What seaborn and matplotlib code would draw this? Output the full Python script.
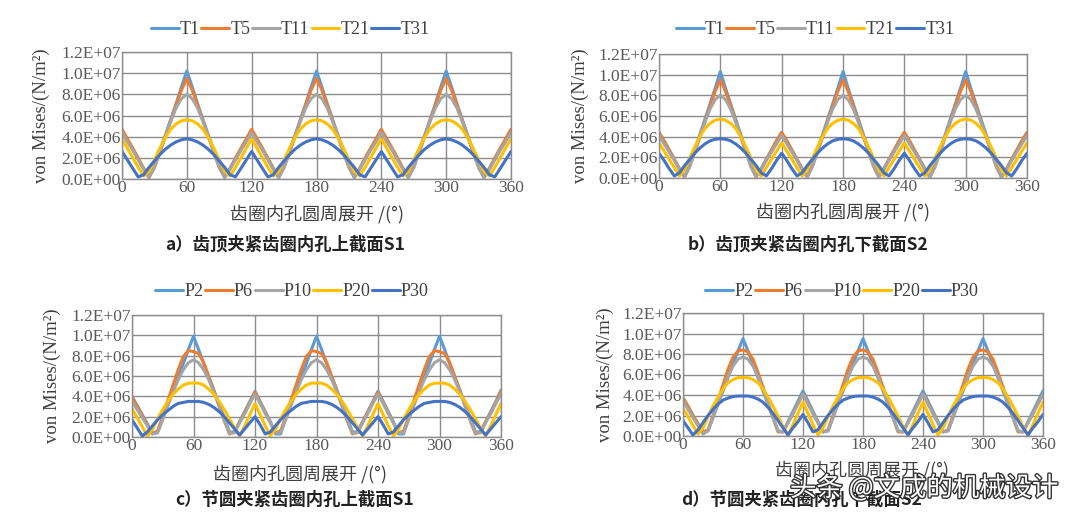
import pandas as pd
import matplotlib
matplotlib.use("Agg")
import matplotlib.pyplot as plt
import matplotlib.patheffects as pe
import seaborn as sns

# angle along the unrolled inner hole (deg), values in 1E+06 N/m^2
angle = list(range(0, 361, 5))

# a) tooth-tip clamping, upper section S1
a_t1 = [4.6, 3.7, 2.8, 1.9, 1.0, 0.2, 1.2, 2.7, 4.1, 5.6, 7.1, 8.7, 10.2, 8.7, 7.1, 5.6, 4.1, 2.7, 1.2, 0.2, 1.0, 1.9, 2.8, 3.7,
        4.6, 3.7, 2.8, 1.9, 1.0, 0.2, 1.2, 2.7, 4.1, 5.6, 7.1, 8.7, 10.2, 8.7, 7.1, 5.6, 4.1, 2.7, 1.2, 0.2, 1.0, 1.9, 2.8, 3.7,
        4.6, 3.7, 2.8, 1.9, 1.0, 0.2, 1.2, 2.7, 4.1, 5.6, 7.1, 8.7, 10.2, 8.7, 7.1, 5.6, 4.1, 2.7, 1.2, 0.2, 1.0, 1.9, 2.8, 3.7,
        4.6]
a_t5 = [4.7, 3.8, 2.9, 2.0, 1.0, 0.2, 1.1, 2.5, 4.0, 5.5, 7.0, 8.4, 9.5, 8.4, 7.0, 5.5, 4.0, 2.5, 1.1, 0.2, 1.0, 2.0, 2.9, 3.8,
        4.7, 3.8, 2.9, 2.0, 1.0, 0.2, 1.1, 2.5, 4.0, 5.5, 7.0, 8.4, 9.5, 8.4, 7.0, 5.5, 4.0, 2.5, 1.1, 0.2, 1.0, 2.0, 2.9, 3.8,
        4.7, 3.8, 2.9, 2.0, 1.0, 0.2, 1.1, 2.5, 4.0, 5.5, 7.0, 8.4, 9.5, 8.4, 7.0, 5.5, 4.0, 2.5, 1.1, 0.2, 1.0, 2.0, 2.9, 3.8,
        4.7]
a_t11 = [4.4, 3.5, 2.7, 1.8, 0.9, 0.1, 1.1, 2.5, 4.0, 5.4, 6.7, 7.6, 8.0, 7.6, 6.7, 5.4, 4.0, 2.5, 1.1, 0.1, 0.9, 1.8, 2.7, 3.5,
         4.4, 3.5, 2.7, 1.8, 0.9, 0.1, 1.1, 2.5, 4.0, 5.4, 6.7, 7.6, 8.0, 7.6, 6.7, 5.4, 4.0, 2.5, 1.1, 0.1, 0.9, 1.8, 2.7, 3.5,
         4.4, 3.5, 2.7, 1.8, 0.9, 0.1, 1.1, 2.5, 4.0, 5.4, 6.7, 7.6, 8.0, 7.6, 6.7, 5.4, 4.0, 2.5, 1.1, 0.1, 0.9, 1.8, 2.7, 3.5,
         4.4]
a_t21 = [3.8, 2.9, 2.0, 1.1, 0.3, 0.7, 1.8, 2.9, 3.9, 4.7, 5.2, 5.5, 5.6, 5.5, 5.2, 4.7, 3.9, 2.9, 1.8, 0.7, 0.3, 1.1, 2.0, 2.9,
         3.8, 2.9, 2.0, 1.1, 0.3, 0.7, 1.8, 2.9, 3.9, 4.7, 5.2, 5.5, 5.6, 5.5, 5.2, 4.7, 3.9, 2.9, 1.8, 0.7, 0.3, 1.1, 2.0, 2.9,
         3.8, 2.9, 2.0, 1.1, 0.3, 0.7, 1.8, 2.9, 3.9, 4.7, 5.2, 5.5, 5.6, 5.5, 5.2, 4.7, 3.9, 2.9, 1.8, 0.7, 0.3, 1.1, 2.0, 2.9,
         3.8]
a_t31 = [2.6, 1.8, 1.0, 0.2, 0.4, 1.1, 1.7, 2.3, 2.8, 3.2, 3.5, 3.7, 3.8, 3.7, 3.5, 3.2, 2.8, 2.3, 1.7, 1.1, 0.4, 0.2, 1.0, 1.8,
         2.6, 1.8, 1.0, 0.2, 0.4, 1.1, 1.7, 2.3, 2.8, 3.2, 3.5, 3.7, 3.8, 3.7, 3.5, 3.2, 2.8, 2.3, 1.7, 1.1, 0.4, 0.2, 1.0, 1.8,
         2.6, 1.8, 1.0, 0.2, 0.4, 1.1, 1.7, 2.3, 2.8, 3.2, 3.5, 3.7, 3.8, 3.7, 3.5, 3.2, 2.8, 2.3, 1.7, 1.1, 0.4, 0.2, 1.0, 1.8,
         2.6]

# b) tooth-tip clamping, lower section S2
b_t1 = [4.4, 3.6, 2.7, 1.8, 0.9, 0.1, 1.3, 2.7, 4.2, 5.7, 7.2, 8.7, 10.3, 8.7, 7.2, 5.7, 4.2, 2.7, 1.3, 0.1, 0.9, 1.8, 2.7, 3.6,
        4.4, 3.6, 2.7, 1.8, 0.9, 0.1, 1.3, 2.7, 4.2, 5.7, 7.2, 8.7, 10.3, 8.7, 7.2, 5.7, 4.2, 2.7, 1.3, 0.1, 0.9, 1.8, 2.7, 3.6,
        4.4, 3.6, 2.7, 1.8, 0.9, 0.1, 1.3, 2.7, 4.2, 5.7, 7.2, 8.7, 10.3, 8.7, 7.2, 5.7, 4.2, 2.7, 1.3, 0.1, 0.9, 1.8, 2.7, 3.6,
        4.4]
b_t5 = [4.4, 3.6, 2.7, 1.8, 0.9, 0.1, 1.1, 2.5, 4.0, 5.5, 7.0, 8.4, 9.5, 8.4, 7.0, 5.5, 4.0, 2.5, 1.1, 0.1, 0.9, 1.8, 2.7, 3.6,
        4.4, 3.6, 2.7, 1.8, 0.9, 0.1, 1.1, 2.5, 4.0, 5.5, 7.0, 8.4, 9.5, 8.4, 7.0, 5.5, 4.0, 2.5, 1.1, 0.1, 0.9, 1.8, 2.7, 3.6,
        4.4, 3.6, 2.7, 1.8, 0.9, 0.1, 1.1, 2.5, 4.0, 5.5, 7.0, 8.4, 9.5, 8.4, 7.0, 5.5, 4.0, 2.5, 1.1, 0.1, 0.9, 1.8, 2.7, 3.6,
        4.4]
b_t11 = [4.1, 3.3, 2.5, 1.7, 0.8, 0.1, 1.1, 2.5, 4.0, 5.4, 6.7, 7.6, 8.0, 7.6, 6.7, 5.4, 4.0, 2.5, 1.1, 0.1, 0.8, 1.7, 2.5, 3.3,
         4.1, 3.3, 2.5, 1.7, 0.8, 0.1, 1.1, 2.5, 4.0, 5.4, 6.7, 7.6, 8.0, 7.6, 6.7, 5.4, 4.0, 2.5, 1.1, 0.1, 0.8, 1.7, 2.5, 3.3,
         4.1, 3.3, 2.5, 1.7, 0.8, 0.1, 1.1, 2.5, 4.0, 5.4, 6.7, 7.6, 8.0, 7.6, 6.7, 5.4, 4.0, 2.5, 1.1, 0.1, 0.8, 1.7, 2.5, 3.3,
         4.1]
b_t21 = [3.4, 2.6, 1.8, 1.0, 0.2, 0.8, 1.9, 3.0, 4.0, 4.8, 5.3, 5.6, 5.7, 5.6, 5.3, 4.8, 4.0, 3.0, 1.9, 0.8, 0.2, 1.0, 1.8, 2.6,
         3.4, 2.6, 1.8, 1.0, 0.2, 0.8, 1.9, 3.0, 4.0, 4.8, 5.3, 5.6, 5.7, 5.6, 5.3, 4.8, 4.0, 3.0, 1.9, 0.8, 0.2, 1.0, 1.8, 2.6,
         3.4, 2.6, 1.8, 1.0, 0.2, 0.8, 1.9, 3.0, 4.0, 4.8, 5.3, 5.6, 5.7, 5.6, 5.3, 4.8, 4.0, 3.0, 1.9, 0.8, 0.2, 1.0, 1.8, 2.6,
         3.4]
b_t31 = [2.4, 1.7, 0.9, 0.2, 0.5, 1.2, 1.8, 2.4, 2.9, 3.3, 3.6, 3.75, 3.8, 3.75, 3.6, 3.3, 2.9, 2.4, 1.8, 1.2, 0.5, 0.2, 0.9, 1.7,
         2.4, 1.7, 0.9, 0.2, 0.5, 1.2, 1.8, 2.4, 2.9, 3.3, 3.6, 3.75, 3.8, 3.75, 3.6, 3.3, 2.9, 2.4, 1.8, 1.2, 0.5, 0.2, 0.9, 1.7,
         2.4, 1.7, 0.9, 0.2, 0.5, 1.2, 1.8, 2.4, 2.9, 3.3, 3.6, 3.75, 3.8, 3.75, 3.6, 3.3, 2.9, 2.4, 1.8, 1.2, 0.5, 0.2, 0.9, 1.7,
         2.4]

# c) pitch-circle clamping, upper section S1
c_p2 = [4.0, 3.1, 2.2, 1.3, 0.4, 0.5, 1.9, 3.2, 4.6, 5.9, 7.2, 8.6, 9.9, 8.6, 7.2, 5.9, 4.6, 3.2, 1.9, 0.5, 0.5, 1.5, 2.5, 3.5,
        4.5, 3.5, 2.5, 1.5, 0.3, 0.3, 1.9, 3.2, 4.6, 5.9, 7.2, 8.6, 9.9, 8.6, 7.2, 5.9, 4.6, 3.2, 1.9, 0.5, 0.5, 1.5, 2.5, 3.5,
        4.5, 3.5, 2.5, 1.5, 0.3, 0.3, 1.9, 3.2, 4.6, 5.9, 7.2, 8.6, 9.9, 8.6, 7.2, 5.9, 4.6, 3.2, 1.9, 0.5, 0.5, 1.5, 2.5, 3.5,
        4.6]
c_p6 = [3.9, 3.0, 2.1, 1.2, 0.3, 0.6, 2.0, 3.6, 5.1, 6.6, 7.9, 8.5, 8.4, 8.2, 7.3, 5.9, 4.5, 3.0, 1.6, 0.3, 0.5, 1.5, 2.4, 3.4,
        4.4, 3.4, 2.4, 1.4, 0.4, 0.6, 2.0, 3.6, 5.1, 6.6, 7.9, 8.5, 8.4, 8.2, 7.3, 5.9, 4.5, 3.0, 1.6, 0.3, 0.5, 1.5, 2.4, 3.4,
        4.4, 3.4, 2.4, 1.4, 0.4, 0.6, 2.0, 3.6, 5.1, 6.6, 7.9, 8.5, 8.4, 8.2, 7.3, 5.9, 4.5, 3.0, 1.6, 0.3, 0.5, 1.5, 2.4, 3.4,
        4.5]
c_p10 = [3.5, 2.7, 1.9, 1.1, 0.3, 0.4, 1.7, 3.1, 4.4, 5.6, 6.6, 7.3, 7.6, 7.3, 6.6, 5.6, 4.4, 3.1, 1.7, 0.4, 0.4, 1.4, 2.3, 3.3,
         4.2, 3.3, 2.3, 1.4, 0.4, 0.4, 1.7, 3.1, 4.4, 5.6, 6.6, 7.3, 7.6, 7.3, 6.6, 5.6, 4.4, 3.1, 1.7, 0.4, 0.4, 1.4, 2.3, 3.3,
         4.2, 3.3, 2.3, 1.4, 0.4, 0.4, 1.7, 3.1, 4.4, 5.6, 6.6, 7.3, 7.6, 7.3, 6.6, 5.6, 4.4, 3.1, 1.7, 0.4, 0.4, 1.4, 2.3, 3.3,
         4.2]
c_p20 = [2.8, 1.9, 1.0, 0.1, 0.8, 1.8, 2.7, 3.5, 4.2, 4.7, 5.1, 5.3, 5.3, 5.3, 5.1, 4.7, 4.2, 3.5, 2.7, 1.8, 0.9, 0.1, 1.1, 2.2,
         3.3, 2.2, 1.1, 0.1, 0.8, 1.8, 2.7, 3.5, 4.2, 4.7, 5.1, 5.3, 5.3, 5.3, 5.1, 4.7, 4.2, 3.5, 2.7, 1.8, 0.9, 0.1, 1.1, 2.2,
         3.3, 2.2, 1.1, 0.1, 0.8, 1.8, 2.7, 3.5, 4.2, 4.7, 5.1, 5.3, 5.3, 5.3, 5.1, 4.7, 4.2, 3.5, 2.7, 1.8, 0.9, 0.1, 1.1, 2.2,
         3.3]
c_p30 = [1.7, 0.9, 0.1, 0.5, 1.1, 1.7, 2.2, 2.6, 3.0, 3.3, 3.4, 3.5, 3.5, 3.5, 3.4, 3.2, 2.9, 2.5, 2.0, 1.4, 0.8, 0.2, 0.8, 1.4,
         2.0, 1.2, 0.3, 0.5, 1.1, 1.7, 2.2, 2.6, 3.0, 3.3, 3.4, 3.5, 3.5, 3.5, 3.4, 3.2, 2.9, 2.5, 2.0, 1.4, 0.8, 0.2, 0.8, 1.4,
         2.0, 1.2, 0.3, 0.5, 1.1, 1.7, 2.2, 2.6, 3.0, 3.3, 3.4, 3.5, 3.5, 3.5, 3.4, 3.2, 2.9, 2.5, 2.0, 1.4, 0.8, 0.2, 0.8, 1.4,
         2.0]

# d) pitch-circle clamping, lower section S2
d_p2 = [3.7, 2.9, 2.0, 1.2, 0.4, 0.5, 1.8, 3.1, 4.4, 5.7, 7.0, 8.3, 9.5, 8.3, 7.0, 5.7, 4.4, 3.1, 1.8, 0.5, 0.4, 1.4, 2.4, 3.4,
        4.4, 3.4, 2.4, 1.4, 0.4, 0.5, 1.8, 3.1, 4.4, 5.7, 7.0, 8.3, 9.5, 8.3, 7.0, 5.7, 4.4, 3.1, 1.8, 0.5, 0.4, 1.4, 2.4, 3.4,
        4.4, 3.4, 2.4, 1.4, 0.4, 0.5, 1.8, 3.1, 4.4, 5.7, 7.0, 8.3, 9.5, 8.3, 7.0, 5.7, 4.4, 3.1, 1.8, 0.5, 0.4, 1.4, 2.4, 3.4,
        4.4]
d_p6 = [3.7, 2.9, 2.0, 1.2, 0.4, 0.6, 2.0, 3.5, 5.0, 6.5, 7.7, 8.3, 8.4, 8.2, 7.5, 6.2, 4.8, 3.3, 1.8, 0.4, 0.4, 1.3, 2.2, 3.2,
        4.1, 3.2, 2.2, 1.3, 0.4, 0.6, 2.0, 3.5, 5.0, 6.5, 7.7, 8.3, 8.4, 8.2, 7.5, 6.2, 4.8, 3.3, 1.8, 0.4, 0.4, 1.3, 2.2, 3.2,
        4.1, 3.2, 2.2, 1.3, 0.4, 0.6, 2.0, 3.5, 5.0, 6.5, 7.7, 8.3, 8.4, 8.2, 7.5, 6.2, 4.8, 3.3, 1.8, 0.4, 0.4, 1.3, 2.2, 3.2,
        4.1]
d_p10 = [3.4, 2.6, 1.8, 1.0, 0.2, 0.5, 1.8, 3.2, 4.5, 5.8, 6.8, 7.5, 7.7, 7.5, 6.8, 5.8, 4.5, 3.2, 1.8, 0.5, 0.4, 1.3, 2.2, 3.1,
         4.1, 3.1, 2.2, 1.3, 0.4, 0.5, 1.8, 3.2, 4.5, 5.8, 6.8, 7.5, 7.7, 7.5, 6.8, 5.8, 4.5, 3.2, 1.8, 0.5, 0.4, 1.3, 2.2, 3.1,
         4.1, 3.1, 2.2, 1.3, 0.4, 0.5, 1.8, 3.2, 4.5, 5.8, 6.8, 7.5, 7.7, 7.5, 6.8, 5.8, 4.5, 3.2, 1.8, 0.5, 0.4, 1.3, 2.2, 3.1,
         4.1]
d_p20 = [2.7, 1.9, 1.0, 0.2, 0.8, 1.9, 2.9, 3.8, 4.6, 5.2, 5.5, 5.7, 5.7, 5.7, 5.5, 5.2, 4.6, 3.8, 2.9, 1.9, 0.9, 0.1, 1.1, 2.2,
         3.3, 2.2, 1.1, 0.1, 0.8, 1.9, 2.9, 3.8, 4.6, 5.2, 5.5, 5.7, 5.7, 5.7, 5.5, 5.2, 4.6, 3.8, 2.9, 1.9, 0.9, 0.1, 1.1, 2.2,
         3.3, 2.2, 1.1, 0.1, 0.8, 1.9, 2.9, 3.8, 4.6, 5.2, 5.5, 5.7, 5.7, 5.7, 5.5, 5.2, 4.6, 3.8, 2.9, 1.9, 0.9, 0.1, 1.1, 2.2,
         3.3]
d_p30 = [1.5, 0.8, 0.1, 0.6, 1.3, 2.0, 2.6, 3.1, 3.5, 3.7, 3.85, 3.9, 3.9, 3.9, 3.8, 3.6, 3.3, 2.8, 2.2, 1.5, 0.8, 0.1, 0.8, 1.4,
         2.1, 1.3, 0.4, 0.6, 1.3, 2.0, 2.6, 3.1, 3.5, 3.7, 3.85, 3.9, 3.9, 3.9, 3.8, 3.6, 3.3, 2.8, 2.2, 1.5, 0.8, 0.1, 0.8, 1.4,
         2.1, 1.3, 0.4, 0.6, 1.3, 2.0, 2.6, 3.1, 3.5, 3.7, 3.85, 3.9, 3.9, 3.9, 3.8, 3.6, 3.3, 2.8, 2.2, 1.5, 0.8, 0.1, 0.8, 1.4,
         2.1]

t_names = ["T1", "T5", "T11", "T21", "T31"]
p_names = ["P2", "P6", "P10", "P20", "P30"]
line_colors = ["#5B9BD5", "#ED7D31", "#A5A5A5", "#FFC000", "#4472C4"]

x_ticks = [0, 60, 120, 180, 240, 300, 360]
y_ticks = [0, 2e6, 4e6, 6e6, 8e6, 1e7, 1.2e7]
y_tick_labels = ["0.0E+00", "2.0E+06", "4.0E+06", "6.0E+06", "8.0E+06", "1.0E+07", "1.2E+07"]

x_title = "齿圈内孔圆周展开 /(°)"
y_title = "von Mises/(N/m²)"
captions = ["a）齿顶夹紧齿圈内孔上截面S1", "b）齿顶夹紧齿圈内孔下截面S2",
            "c）节圆夹紧齿圈内孔上截面S1", "d）节圆夹紧齿圈内孔下截面S2"]

sns.set_style("white")
plt.rcParams["font.family"] = ["Liberation Serif", "Noto Sans CJK SC", "DejaVu Sans"]

W, H = 1080, 521
fig = plt.figure(figsize=(W / 100, H / 100), dpi=100)

# pixel layout: plot box (l, t, r, b), legend centre, ylabel x, xlabel centre, caption centre
panels = [
    dict(series=[a_t1, a_t5, a_t11, a_t21, a_t31], names=t_names,
         box=(122, 52, 511, 179), leg=(290, 30), ylab=41, xlab=(317, 214), cap=(285, 245)),
    dict(series=[b_t1, b_t5, b_t11, b_t21, b_t31], names=t_names,
         box=(659, 54, 1027, 178), leg=(815, 30), ylab=580, xlab=(843, 212), cap=(808, 245)),
    dict(series=[c_p2, c_p6, c_p10, c_p20, c_p30], names=p_names,
         box=(132, 315, 501, 437), leg=(292, 292), ylab=52, xlab=(300, 474), cap=(295, 500)),
    dict(series=[d_p2, d_p6, d_p10, d_p20, d_p30], names=p_names,
         box=(683, 313, 1043, 436), leg=(842, 292), ylab=605, xlab=(862, 470), cap=(802, 500)),
]

for i, p in enumerate(panels):
    l, t, r, b = p["box"]
    ax = fig.add_axes([l / W, 1 - b / H, (r - l) / W, (b - t) / H])
    rows = []
    for name, vals in zip(p["names"], p["series"]):
        for a, v in zip(angle, vals):
            rows.append({"angle": a, "stress": v * 1e6, "series": name})
    df = pd.DataFrame(rows)
    sns.lineplot(data=df, x="angle", y="stress", hue="series", hue_order=p["names"],
                 palette=dict(zip(p["names"], line_colors)), linewidth=2.2, ax=ax)

    ax.set_xlim(0, 360)
    ax.set_ylim(0, 1.2e7)
    ax.set_xticks(x_ticks)
    ax.set_yticks(y_ticks)
    ax.set_yticklabels(y_tick_labels)
    ax.tick_params(length=0, pad=1, labelsize=12.5, labelcolor="#595959")
    ax.grid(True, color="#8C8C8C", linewidth=1.0)
    for s in ax.spines.values():
        s.set_color("#8C8C8C")
        s.set_linewidth(1.0)
    ax.set_xlabel("")
    ax.set_ylabel("")

    handles, labels = ax.get_legend_handles_labels()
    ax.legend(handles, labels, loc="center", bbox_to_anchor=(p["leg"][0] / W, 1 - p["leg"][1] / H),
              bbox_transform=fig.transFigure, ncol=5, frameon=False, fontsize=13,
              handlelength=1.55, handletextpad=0.05, columnspacing=0.1, labelcolor="#404040")

    fig.text(p["ylab"] / W, 1 - (t + b) / 2 / H, y_title, rotation=90, ha="center", va="center",
             fontsize=13.5, color="#404040")
    fig.text(p["xlab"][0] / W, 1 - p["xlab"][1] / H, x_title, ha="center", va="center",
             fontsize=13, color="#404040", family=["Noto Sans CJK SC", "DejaVu Sans"])
    fig.text(p["cap"][0] / W, 1 - p["cap"][1] / H, captions[i], ha="center", va="center",
             fontsize=12.5, color="#222222", fontweight="bold",
             family=["Noto Sans CJK SC", "DejaVu Sans"])

wm = fig.text(790 / W, 1 - 488 / H, "头条 @文成的机械设计", ha="left", va="center",
              fontsize=19, color="white", family=["Noto Sans CJK SC", "DejaVu Sans"])
wm.set_path_effects([pe.withStroke(linewidth=2.0, foreground="#333333")])

fig.savefig("out.png", dpi=100)
